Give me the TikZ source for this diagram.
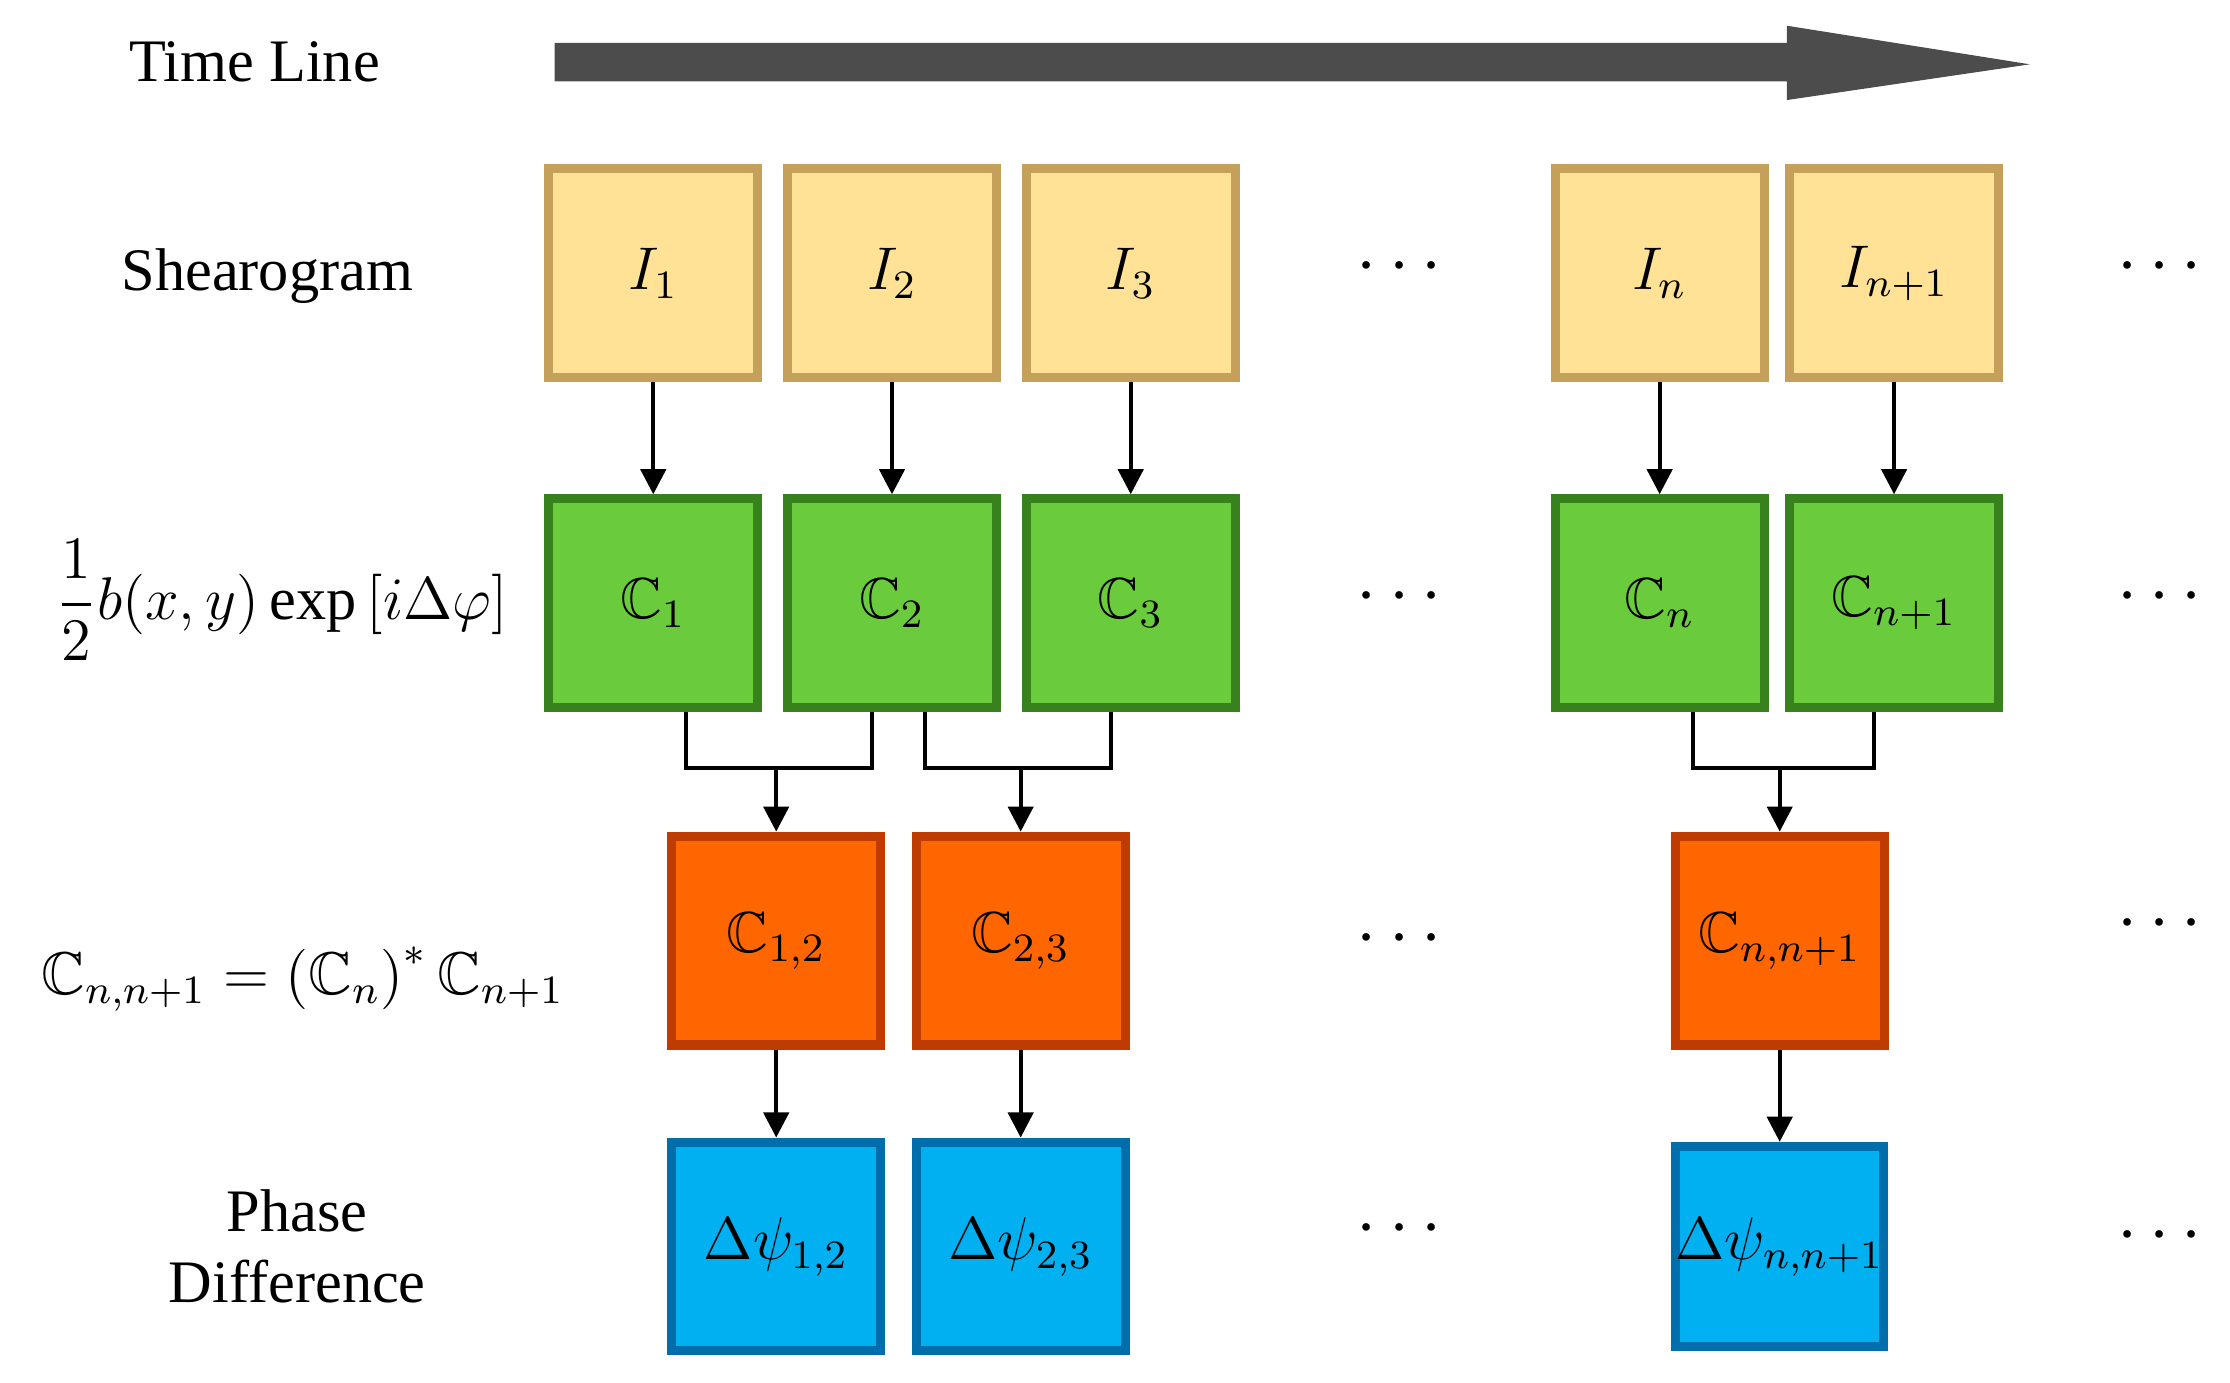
\documentclass[tikz,border=0pt]{standalone}
\usepackage{amsmath,amssymb}
\usepackage{fontspec}
\setmainfont{Liberation Serif}
\usetikzlibrary{arrows.meta,positioning}
\definecolor{shyel}{RGB}{255,226,150}
\definecolor{shyeld}{RGB}{196,160,90}
\definecolor{shgrn}{RGB}{106,204,60}
\definecolor{shgrnd}{RGB}{56,130,30}
\definecolor{shorg}{RGB}{255,102,0}
\definecolor{shorgd}{RGB}{190,60,0}
\definecolor{shblu}{RGB}{0,176,240}
\definecolor{shblud}{RGB}{0,110,170}
\tikzset{
  box/.style={minimum width=1.46cm, minimum height=1.46cm, inner sep=0pt, line width=1.8pt, font=\fontsize{11.5}{13}\selectfont},
  yel/.style={box, fill=shyel, draw=shyeld},
  grn/.style={box, fill=shgrn, draw=shgrnd},
  org/.style={box, fill=shorg, draw=shorgd},
  blu/.style={box, fill=shblu, draw=shblud},
  lbl/.style={font=\fontsize{12}{14}\selectfont, align=center},
  arr/.style={-{Triangle[length=5pt,width=5pt]}, line width=0.8pt},
  dts/.style={font=\fontsize{14}{14}\selectfont\bfseries}
}
\begin{document}
\begin{tikzpicture}[x=0.01cm,y=-0.01cm]
  \useasboundingbox (0,0) rectangle (1560,967);
  % time line
  \node[lbl] (tl) at (178,43) {Time Line};
  \fill[black!70] (388,30) -- (1250,30) -- (1250,18) -- (1420,45) -- (1250,70) -- (1250,57) -- (388,57) -- cycle;
  % row labels
  \node[lbl] (l1) at (187,193) {Shearogram};
  \node[lbl] (l2) at (197,420) {$\dfrac{1}{2}b(x,y)\exp\left[i\Delta\varphi\right]$};
  \node[lbl] (l3) at (212,685) {$\mathbb{C}_{n,n+1}=\left(\mathbb{C}_{n}\right)^{*}\mathbb{C}_{n+1}$};
  \node[lbl, align=center] (l4) at (208,872) {Phase\\Difference};
  % shearograms and complex fields
  \foreach \n/\x/\t in {a/457/1, b/624/2, c/791/3, d/1161/n, e/1325/n+1} {
    \node[yel] (i\n) at (\x,191) {$I_{\t}$};
    \node[grn] (c\n) at (\x,422) {$\mathbb{C}_{\t}$};
    \draw[arr] (i\n) -- (c\n);
  }
  % products and phase differences
  \node[org] (pa) at (543,658) {$\mathbb{C}_{1,2}$};
  \node[org] (pb) at (714,658) {$\mathbb{C}_{2,3}$};
  \node[org] (pc) at (1245,658) {$\mathbb{C}_{n,n+1}$};
  \node[blu] (da) at (543,872) {$\Delta\psi_{1,2}$};
  \node[blu] (db) at (714,872) {$\Delta\psi_{2,3}$};
  \node[blu, minimum width=1.42cm, minimum height=1.40cm] (dc) at (1245,872) {$\Delta\psi_{n,n+1}$};
  \foreach \p/\d in {pa/da, pb/db, pc/dc} \draw[arr] (\p) -- (\d);
  % pair connectors
  \foreach \l/\r/\p in {ca/cb/pa, cb/cc/pb, cd/ce/pc} {
    \coordinate (j\p) at (\p.north |- 0,537);
    \draw[line width=0.8pt] ([xshift=0.23cm]\l.south) |- (j\p) -| ([xshift=-0.14cm]\r.south);
    \draw[arr] (j\p) -- (\p);
  }
  % dots
  \foreach \y [count=\k] in {187,418,657,860} \node[dts] (dm\k) at (983,\y) {$\cdots$};
  \foreach \y [count=\k] in {187,418,647,865} \node[dts] (dr\k) at (1515,\y) {$\cdots$};
\end{tikzpicture}
\end{document}
